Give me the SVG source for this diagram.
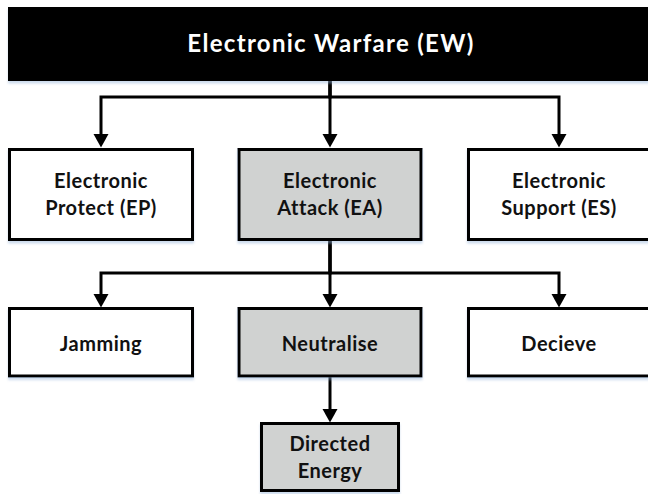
<svg xmlns="http://www.w3.org/2000/svg" width="648" height="494" viewBox="0 0 648 494">
<style>
.box{stroke:#000;stroke-width:3;fill:#fff}
.gray{fill:#d0d2d1}
.lbl{font-family:Lato,"Open Sans","Liberation Sans",sans-serif;font-weight:700;font-size:20px;letter-spacing:0.5px;fill:#111;text-anchor:middle}
.title{font-family:Lato,"Open Sans","Liberation Sans",sans-serif;font-weight:700;font-size:24px;letter-spacing:1.3px;fill:#fff;text-anchor:middle}
.conn{fill:none;stroke:#000;stroke-width:3}
</style>
<defs>
<marker id="arr" markerUnits="userSpaceOnUse" markerWidth="14" markerHeight="16" viewBox="0 0 14 16" refX="7" refY="8" orient="auto">
<path d="M0,0.5 L13.5,8 L0,15.5 z" fill="#000"/>
</marker>
<filter id="sh" x="-5%" y="-5%" width="110%" height="120%">
<feDropShadow dx="0" dy="2.5" stdDeviation="1.2" flood-color="#8fb0d8" flood-opacity="0.45"/>
</filter>
</defs>
<g id="connectors">
<path class="conn" d="M330 81 V97 H101 V141" marker-end="url(#arr)"/>
<path class="conn" d="M330 81 V141" marker-end="url(#arr)"/>
<path class="conn" d="M330 81 V97 H559 V141" marker-end="url(#arr)"/>
<path class="conn" d="M330 240 V273 H101 V301" marker-end="url(#arr)"/>
<path class="conn" d="M330 240 V301" marker-end="url(#arr)"/>
<path class="conn" d="M330 240 V273 H559 V301" marker-end="url(#arr)"/>
<path class="conn" d="M330 377 V416" marker-end="url(#arr)"/>
</g>
<g id="ew">
<rect x="9.5" y="8.5" width="650" height="71" fill="#000" stroke="#000" stroke-width="3" filter="url(#sh)"/>
<text class="title" x="331" y="52">Electronic Warfare (EW)</text>
</g>
<g id="ep">
<rect class="box" x="9.5" y="149.5" width="183" height="90" filter="url(#sh)"/>
<text class="lbl" x="101" y="188">Electronic</text>
<text class="lbl" x="101" y="215">Protect (EP)</text>
</g>
<g id="ea">
<rect class="box gray" x="239" y="149.5" width="182" height="90" filter="url(#sh)"/>
<text class="lbl" x="330" y="188">Electronic</text>
<text class="lbl" x="330" y="215">Attack (EA)</text>
</g>
<g id="es">
<rect class="box" x="468.5" y="149.5" width="183" height="90" filter="url(#sh)"/>
<text class="lbl" x="559" y="188">Electronic</text>
<text class="lbl" x="559" y="215">Support (ES)</text>
</g>
<g id="jamming">
<rect class="box" x="9.5" y="308.5" width="183" height="67.5" filter="url(#sh)"/>
<text class="lbl" x="101" y="351">Jamming</text>
</g>
<g id="neutralise">
<rect class="box gray" x="239" y="308.5" width="182" height="67.5" filter="url(#sh)"/>
<text class="lbl" x="330" y="351">Neutralise</text>
</g>
<g id="decieve">
<rect class="box" x="468.5" y="308.5" width="183" height="67.5" filter="url(#sh)"/>
<text class="lbl" x="559" y="351">Decieve</text>
</g>
<g id="directed-energy">
<rect class="box gray" x="261.5" y="423.5" width="137" height="67" filter="url(#sh)"/>
<text class="lbl" x="330" y="451">Directed</text>
<text class="lbl" x="330" y="478">Energy</text>
</g>
</svg>
